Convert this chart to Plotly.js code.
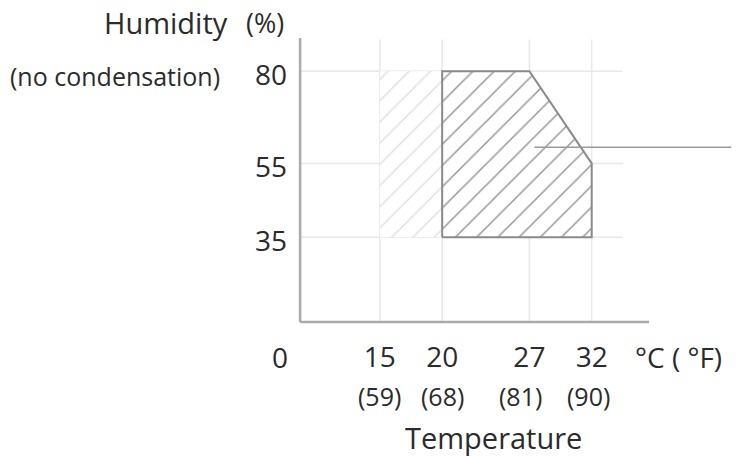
<!DOCTYPE html>
<html>
<head>
<meta charset="utf-8">
<script src="https://cdn.plot.ly/plotly-3.0.1.min.js"></script>
<style>html,body{margin:0;padding:0;background:#fff;}#chart{width:737px;height:456px;}</style>
</head>
<body>
<div id="chart"></div>
<script>
// Data
const tempTicksC = [15, 20, 27, 32];
const tempTicksF = ['(59)', '(68)', '(81)', '(90)'];
const humidityTicks = [35, 55, 80];

const rangeTemp = [20, 20, 27, 32, 32, 20];
const rangeHum  = [35, 80, 80, 55, 35, 35];

const extTemp = [15, 15, 20, 20, 15];
const extHum  = [35, 80, 80, 35, 35];

const leaderTemp = [27.4, 43.2];
const leaderHum  = [59.4, 59.4];

const axisOrigin = {x: 8.6, y: 12};
const axisEnd = {x: 36.6, y: 89};
const gridEnd = {x: 34.5, y: 88.6};

const txt = '#2b2b2b';
const font = 'Open Sans, Noto Sans, sans-serif';

const traces = [
  {
    x: extTemp, y: extHum, type: 'scatter', mode: 'lines',
    fill: 'toself', fillcolor: 'rgba(0,0,0,0)',
    fillpattern: {shape: '/', fgcolor: '#e0e0e0', bgcolor: '#ffffff', size: 15, solidity: 0.1},
    line: {width: 0, color: 'rgba(0,0,0,0)'}, hoverinfo: 'skip', showlegend: false
  },
  {
    x: rangeTemp, y: rangeHum, type: 'scatter', mode: 'lines',
    fill: 'toself', fillcolor: 'rgba(0,0,0,0)',
    fillpattern: {shape: '/', fgcolor: '#969696', bgcolor: '#ffffff', size: 15, solidity: 0.1},
    line: {width: 2, color: '#8a8a8a'}, hoverinfo: 'skip', showlegend: false
  },
  {
    x: leaderTemp, y: leaderHum, type: 'scatter', mode: 'lines',
    line: {width: 1.5, color: '#999999'}, hoverinfo: 'skip', showlegend: false
  }
];

const shapes = [];
tempTicksC.forEach(t => shapes.push({type: 'line', xref: 'x', yref: 'y', x0: t, x1: t, y0: axisOrigin.y, y1: gridEnd.y, line: {color: '#e8e8e8', width: 1.5}, layer: 'below'}));
humidityTicks.forEach(h => shapes.push({type: 'line', xref: 'x', yref: 'y', x0: axisOrigin.x, x1: gridEnd.x, y0: h, y1: h, line: {color: '#e8e8e8', width: 1.5}, layer: 'below'}));
shapes.push({type: 'line', xref: 'x', yref: 'y', x0: axisOrigin.x, x1: axisEnd.x, y0: axisOrigin.y, y1: axisOrigin.y, line: {color: '#aaaaaa', width: 2.5}});
shapes.push({type: 'line', xref: 'x', yref: 'y', x0: axisOrigin.x, x1: axisOrigin.x, y0: axisOrigin.y, y1: axisEnd.y, line: {color: '#aaaaaa', width: 2.5}});

const fShift = [0, 0, -9, -3];
const annotations = tempTicksF.map((f, i) => ({
  text: f, xref: 'x', yref: 'paper', x: tempTicksC[i], y: -0.241, xshift: fShift[i],
  xanchor: 'center', yanchor: 'middle', showarrow: false, font: {size: 25, color: txt, family: font}
}));
annotations.push(
  {text: '0', xref: 'paper', yref: 'paper', x: -0.036, y: -0.107, xanchor: 'center', yanchor: 'middle', showarrow: false, font: {size: 28, color: txt, family: font}},
  {text: '°C ( °F)', xref: 'paper', yref: 'paper', x: 0.768, y: -0.107, xanchor: 'left', yanchor: 'middle', showarrow: false, font: {size: 28, color: txt, family: font}},
  {text: 'Temperature', xref: 'paper', yref: 'paper', x: 0.449, y: -0.386, xanchor: 'center', yanchor: 'middle', showarrow: false, font: {size: 29, color: txt, family: font}},
  {text: 'Humidity', xref: 'paper', yref: 'paper', x: -0.151, y: 1.045, xanchor: 'right', yanchor: 'middle', showarrow: false, font: {size: 29, color: txt, family: font}},
  {text: '(%)', xref: 'paper', yref: 'paper', x: -0.119, y: 1.045, xanchor: 'left', yanchor: 'middle', showarrow: false, font: {size: 27, color: txt, family: font}},
  {text: '(no condensation)', xref: 'paper', yref: 'paper', x: -0.169, y: 0.862, xanchor: 'right', yanchor: 'middle', showarrow: false, font: {size: 25, color: txt, family: font}}
);

const layout = {
  width: 737, height: 456,
  margin: {l: 296, r: 2, t: 36, b: 130, pad: 0},
  paper_bgcolor: '#ffffff', plot_bgcolor: '#ffffff',
  showlegend: false,
  xaxis: {
    range: [8.27, 43.5], tickvals: tempTicksC, ticktext: tempTicksC.map(String),
    showgrid: false, zeroline: false, showline: false, ticks: '',
    ticklabelstandoff: 12,
    tickfont: {size: 28, color: txt, family: font}, fixedrange: true
  },
  yaxis: {
    range: [10.91, 89.54], tickvals: humidityTicks, ticktext: humidityTicks.map(String),
    showgrid: false, zeroline: false, showline: false, ticks: '',
    ticklabelstandoff: 8, ticklabelshift: 4,
    tickfont: {size: 28, color: txt, family: font}, fixedrange: true
  },
  shapes: shapes,
  annotations: annotations
};

Plotly.newPlot('chart', traces, layout, {displayModeBar: false, staticPlot: true});
</script>
</body>
</html>
